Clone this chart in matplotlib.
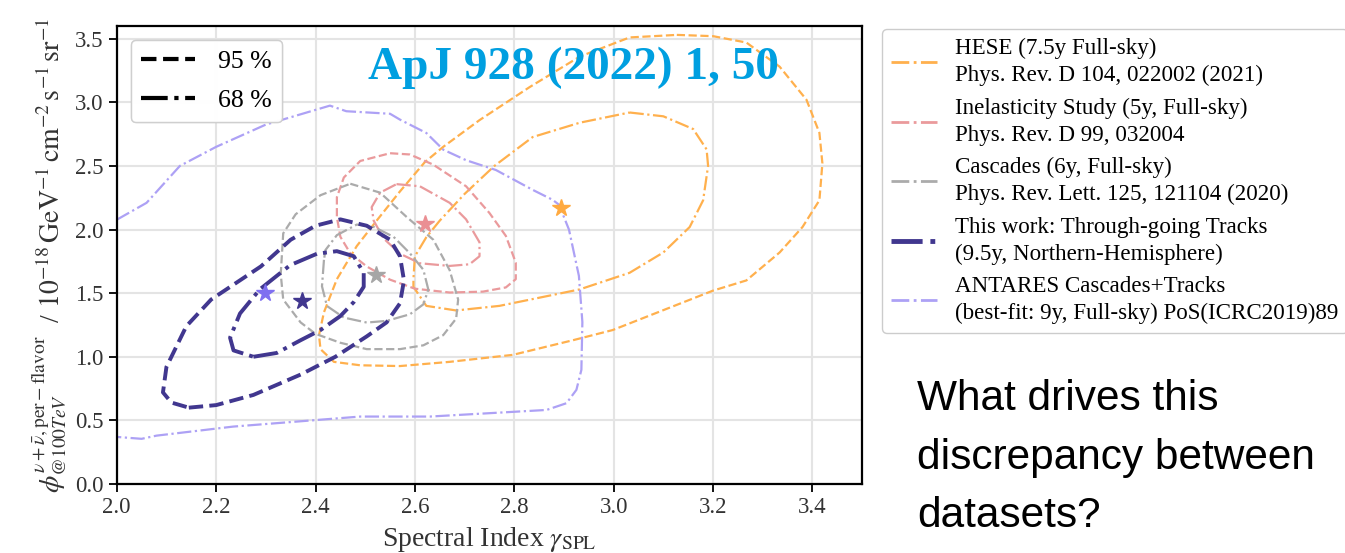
import numpy as np
import matplotlib
matplotlib.use("Agg")
import matplotlib.pyplot as plt
from matplotlib.lines import Line2D

plt.rcParams["font.family"] = ["Liberation Serif", "DejaVu Serif"]
plt.rcParams["mathtext.fontset"] = "stix"

# ---- data (spectral index, flux) ----
hese_95_x = [3.127, 3.20, 3.267, 3.334, 3.388, 3.414, 3.42, 3.414, 3.38, 3.334, 3.267, 3.20, 2.998, 2.918,
             2.797, 2.67, 2.57, 2.49, 2.437, 2.41, 2.407, 2.417, 2.443, 2.483, 2.523, 2.57, 2.62, 2.657,
             2.73, 2.831, 2.932, 3.032, 3.127]
hese_95_y = [3.53, 3.52, 3.47, 3.28, 3.02, 2.76, 2.52, 2.23, 2.02, 1.82, 1.60, 1.52, 1.21, 1.13,
             1.015, 0.96, 0.927, 0.933, 0.96, 1.06, 1.17, 1.35, 1.61, 1.87, 2.07, 2.30, 2.53, 2.65,
             2.86, 3.12, 3.36, 3.51, 3.53]
hese_68_x = [3.032, 3.10, 3.16, 3.187, 3.19, 3.18, 3.153, 3.10, 3.032, 2.932, 2.87, 2.77, 2.683, 2.623,
             2.597, 2.597, 2.60, 2.623, 2.65, 2.70, 2.76, 2.837, 2.932, 3.032]
hese_68_y = [2.92, 2.89, 2.79, 2.63, 2.50, 2.23, 2.02, 1.82, 1.66, 1.53, 1.48, 1.40, 1.364, 1.40,
             1.55, 1.61, 1.79, 1.94, 2.07, 2.28, 2.50, 2.727, 2.84, 2.92]
hese_best = (2.893, 2.17)

inel_95_x = [2.55, 2.59, 2.637, 2.703, 2.75, 2.783, 2.803, 2.803, 2.783, 2.737, 2.67, 2.60, 2.55, 2.503,
             2.47, 2.45, 2.443, 2.443, 2.457, 2.49, 2.55]
inel_95_y = [2.60, 2.59, 2.51, 2.34, 2.13, 1.95, 1.74, 1.61, 1.545, 1.512, 1.505, 1.535, 1.606, 1.71,
             1.813, 1.943, 2.098, 2.254, 2.409, 2.539, 2.60]
inel_68_x = [2.563, 2.61, 2.67, 2.703, 2.73, 2.73, 2.71, 2.67, 2.61, 2.57, 2.537, 2.517, 2.513, 2.53, 2.563]
inel_68_y = [2.357, 2.34, 2.21, 2.08, 1.90, 1.79, 1.727, 1.714, 1.735, 1.81, 1.93, 2.07, 2.176, 2.29, 2.357]
inel_best = (2.62, 2.04)

casc_95_x = [2.47, 2.53, 2.583, 2.637, 2.67, 2.687, 2.683, 2.657, 2.617, 2.57, 2.503, 2.45, 2.40, 2.37,
             2.335, 2.33, 2.335, 2.36, 2.41, 2.47]
casc_95_y = [2.36, 2.29, 2.10, 1.92, 1.68, 1.45, 1.30, 1.17, 1.09, 1.06, 1.06, 1.11, 1.18, 1.27,
             1.45, 1.65, 1.97, 2.12, 2.27, 2.36]
casc_68_x = [2.417, 2.413, 2.423, 2.457, 2.503, 2.543, 2.59, 2.617, 2.627, 2.617, 2.59, 2.557, 2.517,
             2.483, 2.443, 2.42, 2.417]
casc_68_y = [1.762, 1.554, 1.399, 1.308, 1.269, 1.282, 1.334, 1.412, 1.528, 1.684, 1.813, 1.943, 2.021,
             2.039, 1.956, 1.839, 1.762]
casc_best = (2.522, 1.645)

tw_95_x = [2.145, 2.20, 2.275, 2.37, 2.44, 2.503, 2.543, 2.57, 2.578, 2.57, 2.55, 2.503, 2.45, 2.40,
           2.35, 2.29, 2.19, 2.14, 2.10, 2.093, 2.11, 2.145]
tw_95_y = [0.60, 0.62, 0.70, 0.86, 1.00, 1.16, 1.27, 1.42, 1.60, 1.79, 1.92, 2.03, 2.08, 2.03,
           1.92, 1.71, 1.45, 1.24, 0.92, 0.72, 0.64, 0.60]
tw_68_x = [2.275, 2.322, 2.37, 2.41, 2.45, 2.477, 2.497, 2.497, 2.477, 2.443, 2.403, 2.349, 2.288,
           2.248, 2.228, 2.235, 2.275]
tw_68_y = [1.00, 1.03, 1.13, 1.21, 1.32, 1.43, 1.55, 1.66, 1.79, 1.83, 1.81, 1.72, 1.53,
           1.34, 1.15, 1.05, 1.00]
tw_best = (2.372, 1.44)

ant_x = [2.0, 2.06, 2.127, 2.20, 2.30, 2.429, 2.462, 2.55, 2.57, 2.623, 2.657, 2.703, 2.763, 2.837,
         2.877, 2.89, 2.91, 2.93, 2.937, 2.935, 2.925, 2.905, 2.865, 2.63, 2.49, 2.234, 2.08, 2.05, 2.0]
ant_y = [2.077, 2.21, 2.50, 2.65, 2.825, 2.974, 2.93, 2.91, 2.864, 2.759, 2.628, 2.545, 2.468, 2.312,
         2.234, 2.195, 2.0, 1.636, 1.273, 0.897, 0.74, 0.635, 0.582, 0.53, 0.53, 0.451, 0.38, 0.355, 0.37]
ant_best = (2.298, 1.50)

labels = ["HESE (7.5y Full-sky)\nPhys. Rev. D 104, 022002 (2021)",
          "Inelasticity Study (5y, Full-sky)\nPhys. Rev. D 99, 032004",
          "Cascades (6y, Full-sky)\nPhys. Rev. Lett. 125, 121104 (2020)",
          "This work: Through-going Tracks\n(9.5y, Northern-Hemisphere)",
          "ANTARES Cascades+Tracks\n(best-fit: 9y, Full-sky) PoS(ICRC2019)89"]
line_colors = ["#ffb04d", "#ea9a9c", "#ababab", "#41378f", "#ada1f5"]
star_colors = ["#ffaa40", "#ea8f93", "#a6a6a6", "#41378f", "#7f6ff0"]

fig = plt.figure(figsize=(13.45, 5.53), dpi=100)
ax = fig.add_axes([0.0868, 0.1248, 0.5542, 0.8282])

thin = 1.6
thick = 2.8
kw = dict(solid_joinstyle="round", dash_joinstyle="round")
ax.plot(hese_95_x, hese_95_y, "--", color=line_colors[0], lw=thin, **kw)
ax.plot(hese_68_x, hese_68_y, "-.", color=line_colors[0], lw=thin, **kw)
ax.plot(inel_95_x, inel_95_y, "--", color=line_colors[1], lw=thin, **kw)
ax.plot(inel_68_x, inel_68_y, "-.", color=line_colors[1], lw=thin, **kw)
ax.plot(casc_95_x, casc_95_y, "--", color=line_colors[2], lw=thin, **kw)
ax.plot(casc_68_x, casc_68_y, "-.", color=line_colors[2], lw=thin, **kw)
ax.plot(ant_x, ant_y, "-.", color=line_colors[4], lw=thin, **kw)
ax.plot(tw_95_x, tw_95_y, "--", color=line_colors[3], lw=thick, zorder=4, **kw)
ax.plot(tw_68_x, tw_68_y, "-.", color=line_colors[3], lw=thick, zorder=4, **kw)

for best, c in zip([hese_best, inel_best, casc_best, tw_best, ant_best], star_colors):
    ax.plot(best[0], best[1], marker="*", ms=13, color=c, mec=c, ls="none", zorder=5)

ax.set_xlim(2.0, 3.5)
ax.set_ylim(0.0, 3.6)
ax.set_xticks(np.arange(2.0, 3.41, 0.2))
ax.set_yticks(np.arange(0.0, 3.51, 0.5))
ax.xaxis.set_major_formatter(matplotlib.ticker.FormatStrFormatter("%.1f"))
ax.yaxis.set_major_formatter(matplotlib.ticker.FormatStrFormatter("%.1f"))
ax.grid(color="#e4e4e4", lw=1.5)
ax.set_axisbelow(True)
for s in ax.spines.values():
    s.set_linewidth(1.6)
ax.tick_params(direction="out", length=6, width=1.3, labelsize=16.5, labelcolor="#333333")
ax.set_xlabel(r"Spectral Index $\gamma_{\mathrm{SPL}}$", fontsize=20, color="#333333", labelpad=5)
ax.set_ylabel(r"$\phi^{\nu+\bar{\nu},\mathrm{per}-\mathrm{flavor}}_{@100TeV}$  / "
              r"$10^{-18}\,\mathrm{GeV}^{-1}\,\mathrm{cm}^{-2}\,\mathrm{s}^{-1}\,\mathrm{sr}^{-1}$",
              fontsize=20, color="#333333", labelpad=4)

ax.text(2.92, 3.27, "ApJ 928 (2022) 1, 50", fontsize=34, fontweight="bold", color="#009fe0",
        ha="center", va="center", zorder=10)

cl_handles = [Line2D([], [], color="black", lw=3, ls="--"),
              Line2D([], [], color="black", lw=3, ls="-.")]
leg1 = ax.legend(cl_handles, ["95 %", "68 %"], loc="upper left", fontsize=18.5, handlelength=2.1,
                 handletextpad=0.9, labelspacing=0.6, framealpha=0.85, edgecolor="#cccccc",
                 borderaxespad=0.55)
ax.add_artist(leg1)

ds_handles = [Line2D([], [], color=c, lw=(3.5 if i == 3 else 2), ls="-.") for i, c in enumerate(line_colors)]
leg2 = fig.legend(ds_handles, labels, loc="upper left", bbox_to_anchor=(0.6558, 0.9476),
                  borderaxespad=0, fontsize=16.6, handlelength=2.0, handletextpad=0.75,
                  edgecolor="#cccccc", framealpha=1, labelspacing=0.5)
for t in leg2.get_texts():
    t.set_linespacing(1.35)

fig.text(917 / 1345, 1 - 379 / 553, "What drives this\ndiscrepancy between\ndatasets?",
         fontfamily="Liberation Sans", fontsize=30.5, va="top", ha="left", linespacing=1.6)

fig.savefig("out.png", dpi=100)
